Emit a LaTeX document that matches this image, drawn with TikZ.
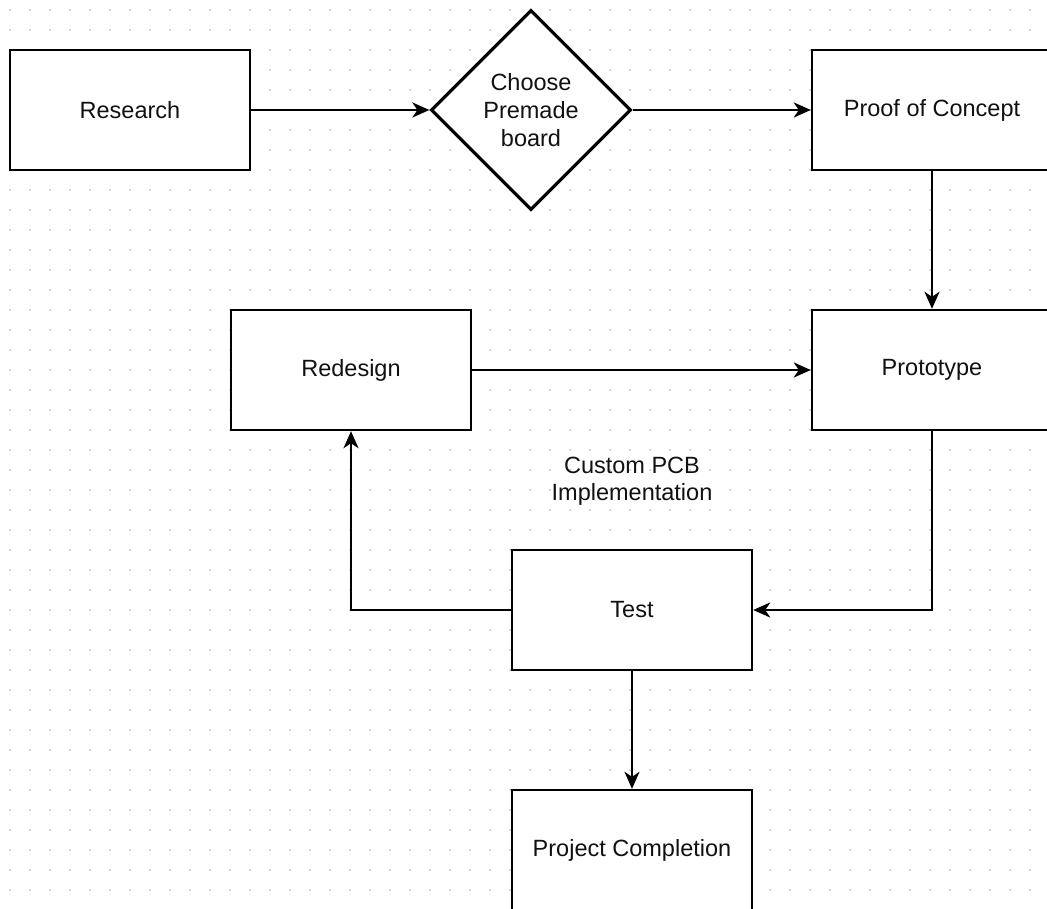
\documentclass[tikz,border=0pt]{standalone}
\usepackage{fontspec}
\setmainfont{Liberation Sans}
\usetikzlibrary{shapes.geometric,arrows.meta}
\definecolor{dotc}{HTML}{C0C0C0}
\definecolor{textc}{HTML}{111111}
\tikzset{
  box/.style={draw, line width=2.4pt, fill=white, minimum width=240pt, minimum height=120pt, inner sep=0pt, font=\fontsize{23.5}{28}\selectfont, text=textc, align=center},
  decide/.style={draw, line width=3.2pt, fill=white, shape=diamond, minimum width=200pt, minimum height=200pt, inner sep=0pt, font=\fontsize{23.5}{28}\selectfont, text=textc, align=center},
  arr/.style={line width=2.4pt, -{Stealth[length=17pt,width=15pt,inset=5pt]}},
  lbl/.style={font=\fontsize{23.5}{27}\selectfont, text=textc, align=center}
}
\begin{document}
\begin{tikzpicture}[x=1pt,y=-1pt]
\useasboundingbox (0,0) rectangle (1047,909);
\clip (0,0) rectangle (1047,909);
\fill[white] (0,0) rectangle (1047,909);
\foreach \i in {0,...,52} {
  \foreach \j in {0,...,45} {
    \fill[dotc] (10+20*\i, 10+20*\j) circle (1);
  }
}
\node[box] (research) at (130,110) {Research};
\node[decide] (choose) at (531,110) {Choose\\Premade\\board};
\node[box] (poc) at (932,110) {Proof of Concept};
\node[box] (proto) at (932,370) {Prototype};
\node[box] (redesign) at (351,370) {Redesign};
\node[box] (test) at (632,610) {Test};
\node[box] (project) at (632,850) {Project Completion};
\node[lbl] (custom) at (632,481) {Custom PCB\\Implementation};
\draw[arr] (research) -- (choose);
\draw[arr] (choose) -- (poc);
\draw[arr] (poc) -- (proto);
\draw[arr] (redesign) -- (proto);
\draw[arr] (proto.south) |- (test.east);
\draw[arr] (test.west) -| (redesign.south);
\draw[arr] (test) -- (project);
\end{tikzpicture}
\end{document}
